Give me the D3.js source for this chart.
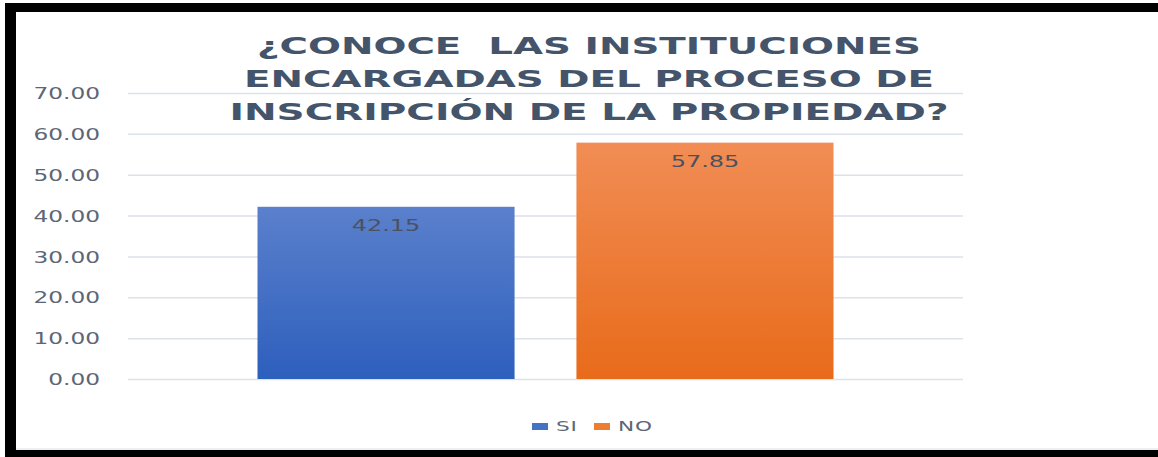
<!DOCTYPE html>
<html>
<head>
<meta charset="utf-8">
<script src="https://cdn.jsdelivr.net/npm/d3@7"></script>
<style>
  body { margin: 0; background: #fff; overflow: hidden; }
  svg { display: block; }
</style>
</head>
<body>
<div id="chart-container"></div>
<script>
// data
const series = ["SI", "NO"];
const values = [42.15, 57.85];
const yTicks = [0, 10, 20, 30, 40, 50, 60, 70];
const titleLines = ["¿CONOCE  LAS INSTITUCIONES", "ENCARGADAS DEL PROCESO DE", "INSCRIPCIÓN DE LA PROPIEDAD?"];

const width = 1158, height = 457;
const plotLeft = 128, plotRight = 963, plotTop = 93, plotBottom = 379;
// the screenshot is stretched sideways, so text is widened too
const stretch = 1.5;

const svg = d3.select("#chart-container")
  .append("svg")
  .attr("width", width)
  .attr("height", height);

// gradients
const defs = svg.append("defs");
const grads = [["gSI", "#5b80cc", "#2d5fbd"], ["gNO", "#f18d55", "#e86b1a"]];
grads.forEach(g => {
  const lg = defs.append("linearGradient").attr("id", g[0])
    .attr("x1", 0).attr("y1", 0).attr("x2", 0).attr("y2", 1);
  lg.append("stop").attr("offset", "0%").attr("stop-color", g[1]);
  lg.append("stop").attr("offset", "100%").attr("stop-color", g[2]);
});
const fillFor = { SI: "url(#gSI)", NO: "url(#gNO)" };
const legendColor = { SI: "#4472c4", NO: "#ed7d31" };

// black frame around the picture
svg.append("rect").attr("x", 5).attr("y", 3).attr("width", width - 5).attr("height", 9).attr("fill", "#000");
svg.append("rect").attr("x", 5).attr("y", 3).attr("width", 11).attr("height", height - 3).attr("fill", "#000");
svg.append("rect").attr("x", 5).attr("y", 450).attr("width", width - 5).attr("height", 7).attr("fill", "#000");
svg.append("line").attr("x1", 16).attr("x2", width).attr("y1", 449).attr("y2", 449)
  .attr("stroke", "#d9dde3").attr("stroke-width", 1);

// scales
const y = d3.scaleLinear().domain([0, 70]).range([plotBottom, plotTop]);
const x = d3.scaleBand().domain(series).range([plotLeft, plotRight])
  .paddingInner(0.194).paddingOuter(0.406);

// gridlines + y labels
const yAxis = d3.axisLeft(y).tickValues(yTicks)
  .tickSize(-(plotRight - plotLeft)).tickPadding(0)
  .tickFormat(d3.format(".2f"));
const gy = svg.append("g").attr("transform", `translate(${plotLeft},0)`).call(yAxis);
gy.select(".domain").remove();
gy.selectAll(".tick line").attr("stroke", "#dde2ea").attr("stroke-width", 1.5);
gy.selectAll(".tick text")
  .attr("x", 0)
  .attr("dy", "0.36em")
  .attr("transform", `translate(-28,0) scale(${stretch},1)`)
  .attr("fill", "#5d6675")
  .style("font-family", "'DejaVu Sans', sans-serif")
  .style("font-size", "15.5px");

// bars
svg.selectAll(".bar")
  .data(series)
  .enter()
  .append("rect")
  .attr("class", "bar")
  .attr("x", d => x(d))
  .attr("y", (d, i) => y(values[i]))
  .attr("width", x.bandwidth())
  .attr("height", (d, i) => y(0) - y(values[i]))
  .attr("fill", d => fillFor[d]);

// data labels
svg.selectAll(".lbl")
  .data(series)
  .enter()
  .append("text")
  .attr("class", "lbl")
  .attr("transform", (d, i) => `translate(${x(d) + x.bandwidth() / 2},${y(values[i]) + 24}) scale(1.6,1)`)
  .attr("text-anchor", "middle")
  .attr("fill", "#4a5260")
  .style("font-family", "'DejaVu Sans', sans-serif")
  .style("font-size", "15px")
  .text((d, i) => d3.format(".2f")(values[i]));

// title
const titleWidths = [664, 690, 719];
svg.append("g")
  .selectAll("text")
  .data(titleLines)
  .enter()
  .append("text")
  .attr("x", 589)
  .attr("y", (d, i) => 54 + i * 33)
  .attr("text-anchor", "middle")
  .attr("textLength", (d, i) => titleWidths[i])
  .attr("lengthAdjust", "spacingAndGlyphs")
  .attr("fill", "#44546a")
  .style("font-family", "'DejaVu Sans', sans-serif")
  .style("font-weight", "bold")
  .style("font-size", "23px")
  .style("white-space", "pre")
  .text(d => d);

// legend
const legend = svg.selectAll(".legend")
  .data(series)
  .enter()
  .append("g")
  .attr("class", "legend")
  .attr("transform", (d, i) => `translate(${532 + i * 62},423)`);

legend.append("rect")
  .attr("width", 16)
  .attr("height", 7)
  .attr("fill", d => legendColor[d]);

legend.append("text")
  .attr("transform", "translate(24,8) scale(1.6,1)")
  .attr("fill", "#5d6675")
  .style("font-family", "'DejaVu Sans', sans-serif")
  .style("font-size", "13.5px")
  .style("letter-spacing", "0.5px")
  .text(d => d);
</script>
</body>
</html>
